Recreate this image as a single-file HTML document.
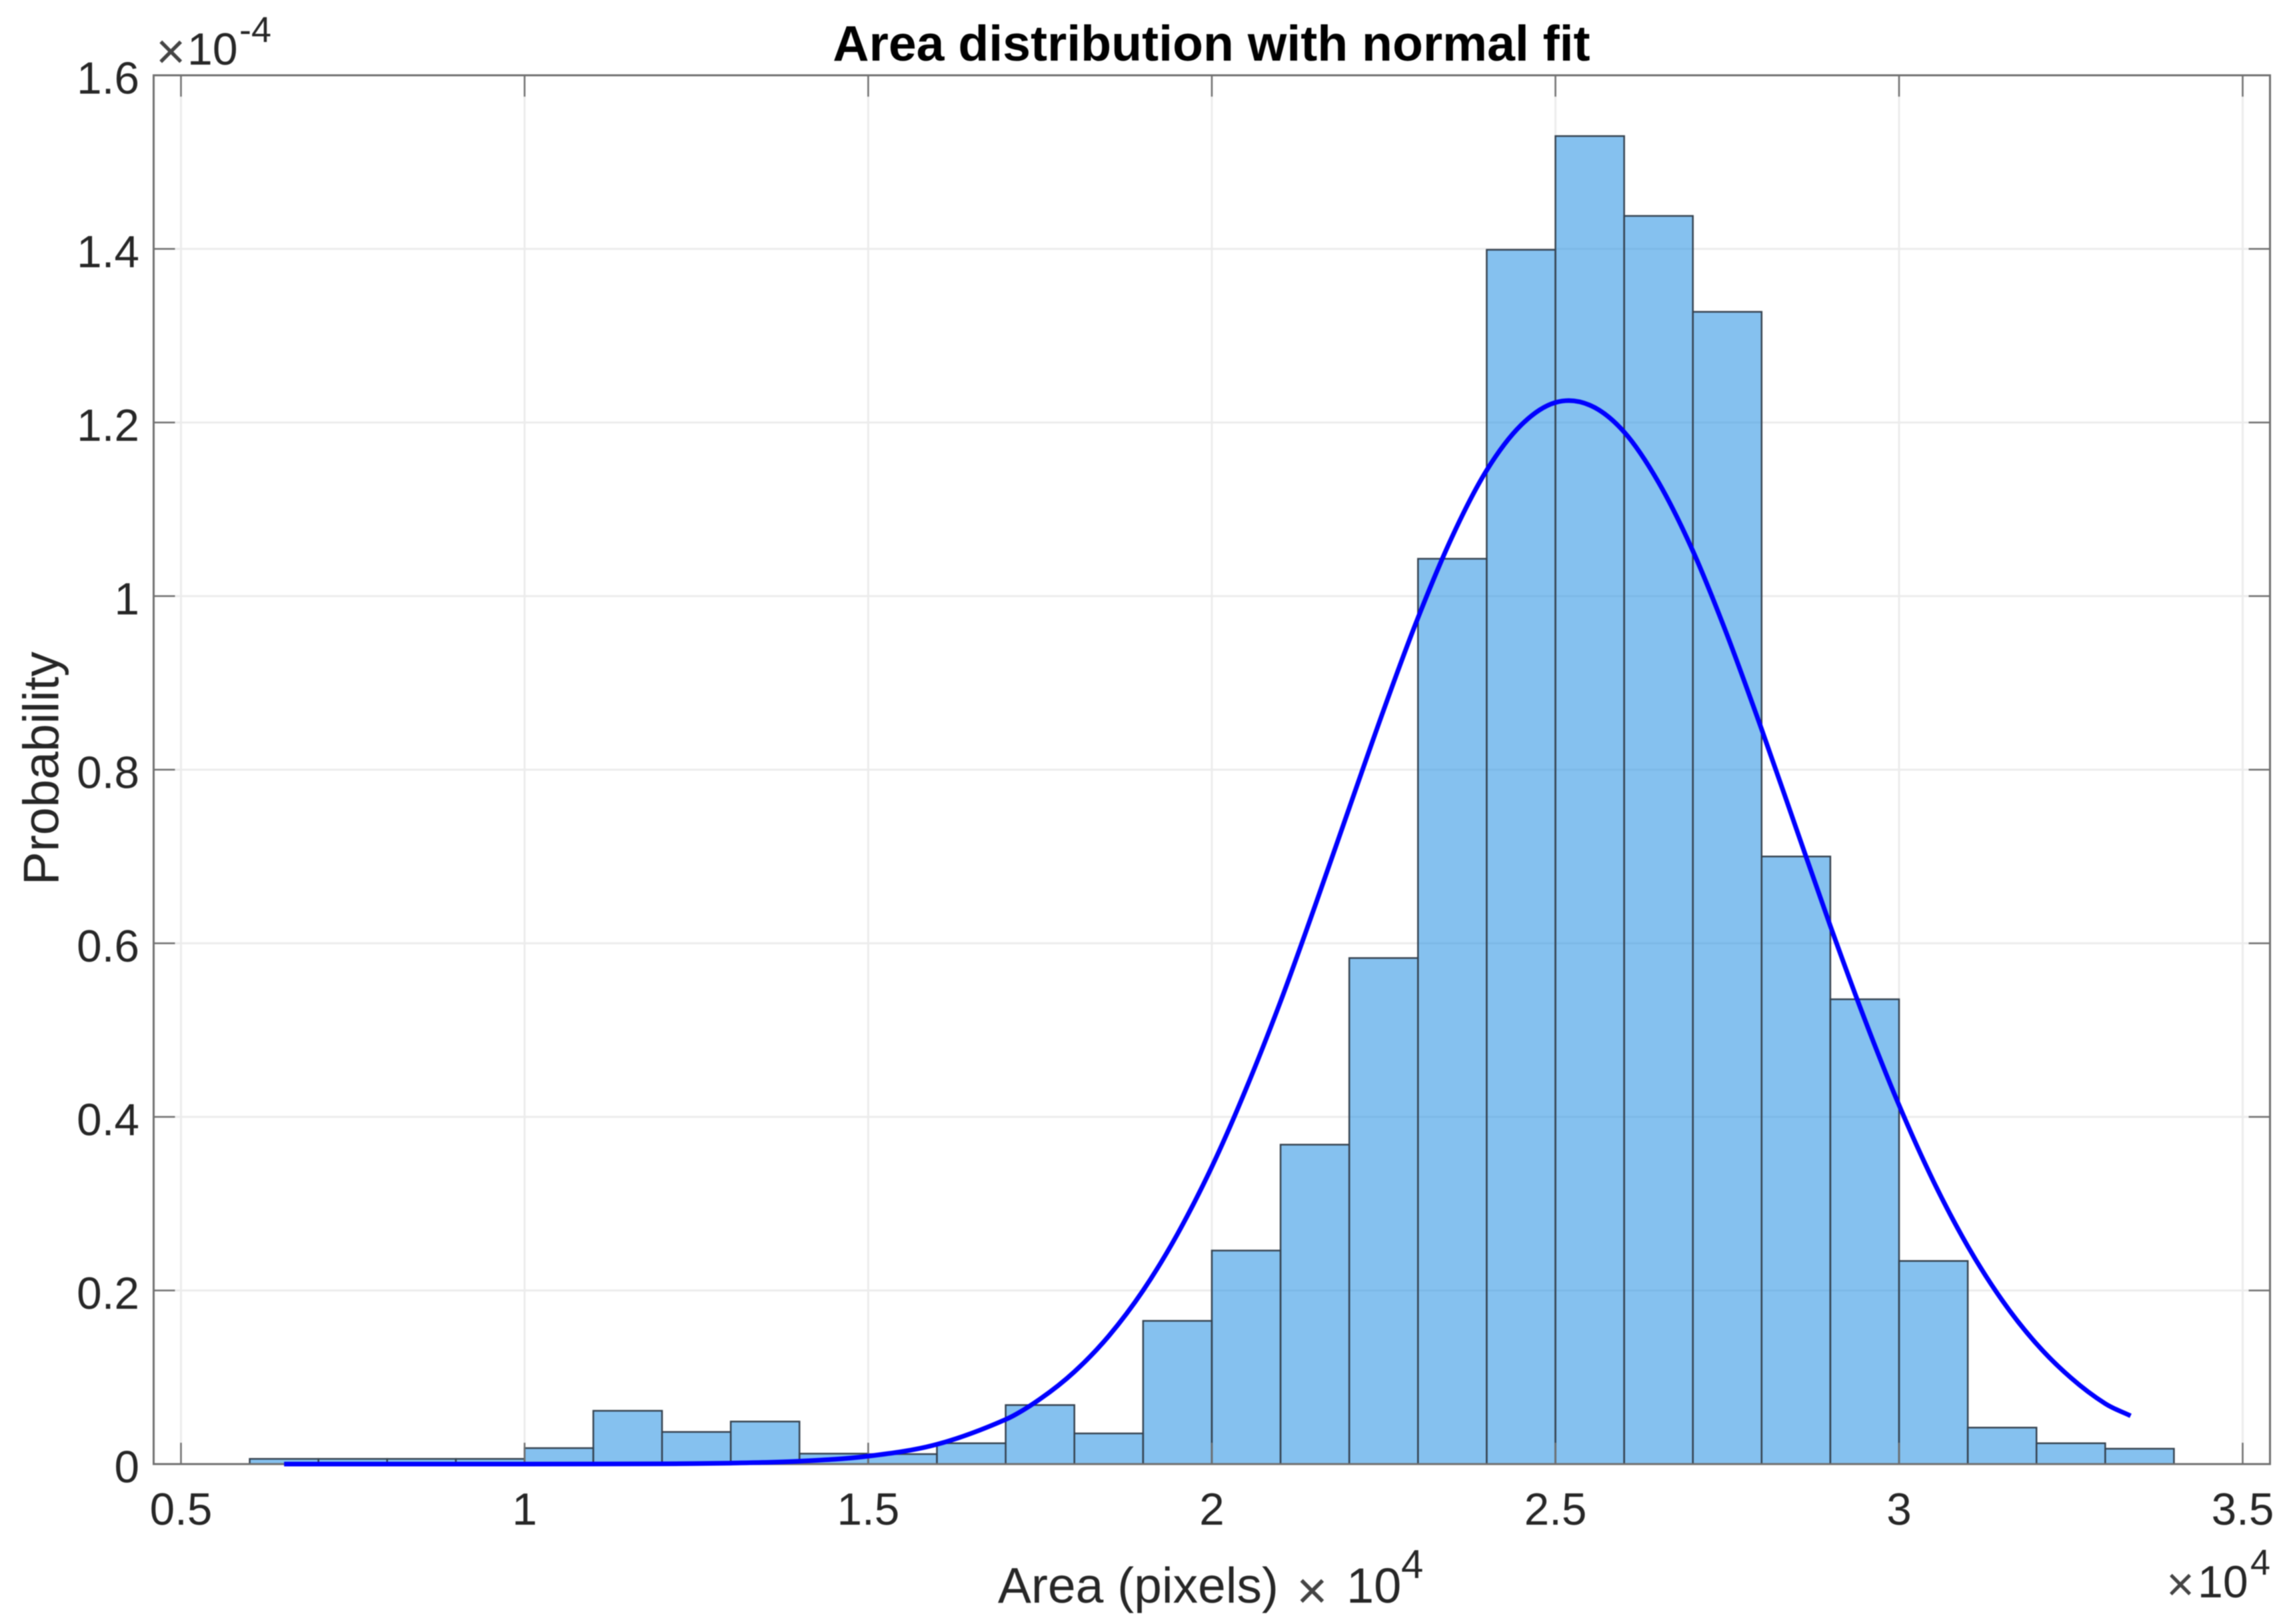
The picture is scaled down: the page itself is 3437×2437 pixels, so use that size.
<!DOCTYPE html>
<html lang="en">
<head>
<meta charset="utf-8">
<title>Area distribution with normal fit</title>
<style>
  html, body { margin: 0; padding: 0; background: #ffffff; }
  #chart { display: block; width: 3437px; height: 2437px; filter: blur(0.7px); font-family: "Liberation Sans", Arial, sans-serif; }
</style>
</head>
<body>
<svg id="chart" xmlns="http://www.w3.org/2000/svg" width="3437" height="2437" viewBox="0 0 3437 2437">
  <rect x="0" y="0" width="3437" height="2437" fill="#ffffff"/>
  <g id="grid"></g>
  <g id="bars"></g>
  <g id="ticks"></g>
  <rect x="230.5" y="113" width="3175" height="2084" fill="none" stroke="#707070" stroke-width="3"/>
  <path id="fit" fill="none" stroke="#0000ff" stroke-width="7" stroke-linejoin="round"/>
  <g id="labels"></g>

  <text x="1817.5" y="91" text-anchor="middle" font-size="75.2" font-weight="bold" fill="#000000">Area distribution with normal fit</text>
  <text transform="translate(87.5 1153) rotate(-90)" text-anchor="middle" font-size="75" fill="#262626">Probability</text>

  <g fill="#262626">
    <text x="1497" y="2405" font-size="75">Area (pixels)</text>
    <text x="1945" y="2414" font-size="80" fill="#444444">×</text>
    <text x="2020" y="2405" font-size="74">10</text>
    <text x="2102" y="2368" font-size="60">4</text>
  </g>

  <g fill="#262626">
    <text x="3250" y="2402" font-size="72" fill="#444444">×</text>
    <text x="3297" y="2397" font-size="68">10</text>
    <text x="3376" y="2363" font-size="54">4</text>
  </g>

  <g fill="#262626">
    <text x="234" y="103" font-size="76" fill="#444444">×</text>
    <text x="281" y="97" font-size="68">10</text>
    <text x="359" y="63" font-size="54">-4</text>
  </g>
</svg>
<script>
const binLeft = [0.6,0.7,0.8,0.9,1.0,1.1,1.2,1.3,1.4,1.5,1.6,1.7,1.8,1.9,2.0,2.1,2.2,2.3,2.4,2.5,2.6,2.7,2.8,2.9,3.0,3.1,3.2,3.3];
const binValues = [0.006,0.006,0.006,0.006,0.0184,0.0614,0.037,0.049,0.012,0.0115,0.024,0.068,0.0353,0.165,0.246,0.368,0.583,1.043,1.399,1.530,1.438,1.3275,0.700,0.5355,0.234,0.042,0.024,0.0177];
const binWidth = 0.1;
const curveX = [0.65,0.8,1.0,1.2,1.3,1.4,1.5,1.6,1.7,1.75,1.8,1.85,1.9,1.95,2.0,2.05,2.1,2.15,2.2,2.25,2.3,2.35,2.4,2.45,2.5,2.55,2.6,2.65,2.7,2.75,2.8,2.85,2.9,2.95,3.0,3.05,3.1,3.15,3.2,3.25,3.3,3.337];
const curveY = [0,0,0.00002,0.0003,0.0011,0.0033,0.0091,0.0227,0.0514,0.0749,0.1063,0.1476,0.200,0.265,0.3424,0.4326,0.533,0.6425,0.756,0.8688,0.975,1.069,1.145,1.197,1.223,1.220,1.189,1.131,1.052,0.9547,0.8466,0.7332,0.620,0.5124,0.4135,0.3259,0.2509,0.1886,0.1385,0.0994,0.0696,0.0556];
const xTickValues = [0.5,1,1.5,2,2.5,3,3.5];
const xTickLabels = ["0.5","1","1.5","2","2.5","3","3.5"];
const yTickValues = [0,0.2,0.4,0.6,0.8,1,1.2,1.4,1.6];
const yTickLabels = ["0","0.2","0.4","0.6","0.8","1","1.2","1.4","1.6"];

const NS = "http://www.w3.org/2000/svg";
const plot = { left: 230.5, right: 3405.5, top: 113, bottom: 2197 };
function xScale(v) { return 271.5 + (v - 0.5) * 1031; }
function yScale(v) { return plot.bottom - v * (plot.bottom - plot.top) / 1.6; }
function make(tag, attrs) {
  const el = document.createElementNS(NS, tag);
  for (const k in attrs) el.setAttribute(k, attrs[k]);
  return el;
}

const gridG = document.getElementById("grid");
const barsG = document.getElementById("bars");
const ticksG = document.getElementById("ticks");
const labelsG = document.getElementById("labels");
const tickLen = 32;

xTickValues.forEach(function (v, i) {
  const x = xScale(v);
  const g = make("line", { x1: x, x2: x, y1: plot.top, y2: plot.bottom, stroke: "#ececec", "stroke-width": 3 });
  
  
  gridG.appendChild(g);
  const t1 = make("line", { x1: x, x2: x, y1: plot.bottom, y2: plot.bottom - tickLen, stroke: "#707070", "stroke-width": 2.5 });
  
  
  ticksG.appendChild(t1);
  const t2 = make("line", { x1: x, x2: x, y1: plot.top, y2: plot.top + tickLen, stroke: "#707070", "stroke-width": 2.5 });
  
  
  ticksG.appendChild(t2);
  const lab = make("text", { x: x, y: 2288, "text-anchor": "middle", "font-size": 67.5, fill: "#262626" });
  lab.textContent = xTickLabels[i];
  
  
  labelsG.appendChild(lab);
});

yTickValues.forEach(function (v, i) {
  const y = yScale(v);
  const g = make("line", { x1: plot.left, x2: plot.right, y1: y, y2: y, stroke: "#ececec", "stroke-width": 3 });
  
  
  gridG.appendChild(g);
  const t1 = make("line", { x1: plot.left, x2: plot.left + tickLen, y1: y, y2: y, stroke: "#707070", "stroke-width": 2.5 });
  
  
  ticksG.appendChild(t1);
  const t2 = make("line", { x1: plot.right, x2: plot.right - tickLen, y1: y, y2: y, stroke: "#707070", "stroke-width": 2.5 });
  
  
  ticksG.appendChild(t2);
  const lab = make("text", { x: 209, y: y + 27.5, "text-anchor": "end", "font-size": 67.5, fill: "#262626" });
  lab.textContent = yTickLabels[i];
  
  
  labelsG.appendChild(lab);
});

binLeft.forEach(function (b, i) {
  const x0 = xScale(b);
  const x1 = xScale(b + binWidth);
  const y = yScale(binValues[i]);
  const r = make("rect", { x: x0, y: y, width: x1 - x0, height: plot.bottom - y, fill: "rgb(52,152,228)", "fill-opacity": 0.6, stroke: "#35424f", "stroke-width": 2.5 });
  
  
  barsG.appendChild(r);
});

const pts = curveX.map(function (v, i) { return [xScale(v), yScale(curveY[i])]; });
function slopeAt(i) {
  const a = pts[Math.max(i - 1, 0)], b = pts[Math.min(i + 1, pts.length - 1)];
  return (b[1] - a[1]) / (b[0] - a[0]);
}
let d = "M" + pts[0][0].toFixed(1) + " " + pts[0][1].toFixed(1);
for (let i = 0; i < pts.length - 1; i++) {
  const p1 = pts[i], p2 = pts[i + 1];
  const h = (p2[0] - p1[0]) / 3;
  d += "C" + (p1[0] + h).toFixed(1) + " " + (p1[1] + slopeAt(i) * h).toFixed(1) + " " + (p2[0] - h).toFixed(1) + " " + (p2[1] - slopeAt(i + 1) * h).toFixed(1) + " " + p2[0].toFixed(1) + " " + p2[1].toFixed(1);
}
document.getElementById("fit").setAttribute("d", d);
</script>
</body>
</html>
